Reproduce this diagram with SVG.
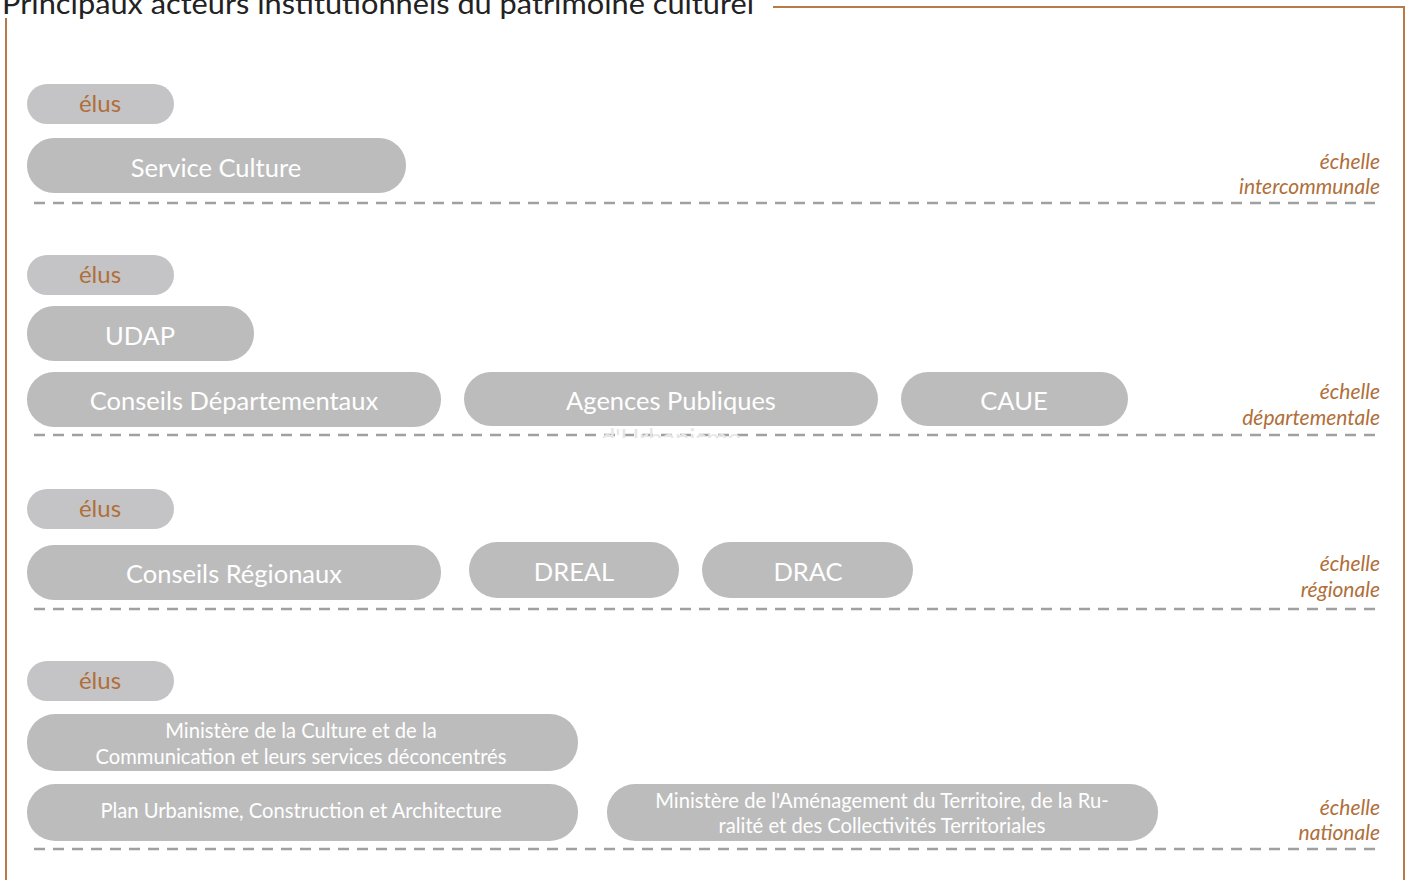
<svg xmlns="http://www.w3.org/2000/svg" width="1410" height="880" viewBox="0 0 1410 880">
<defs>
<style>
.frame{fill:none;stroke:#b87a47;stroke-width:2}
.elus{fill:#c4c4c6}
.box{fill:#bcbcbc}
.elt{font-family:Lato,"Open Sans",sans-serif;font-size:24px;fill:#b06f3a;text-anchor:middle}
.lbl{font-family:Lato,"Open Sans",sans-serif;font-size:25.5px;fill:#ffffff;text-anchor:middle}
.sm{font-family:Lato,"Open Sans",sans-serif;font-size:20.2px;fill:#ffffff;text-anchor:middle}
.sc{font-family:Lato,"Open Sans",sans-serif;font-style:italic;font-size:21px;fill:#b06f3a;text-anchor:end}
.dash{stroke:#a0a0a0;stroke-width:2.5;stroke-dasharray:11 8;fill:none}
.title{font-family:Lato,"Open Sans",sans-serif;font-size:28px;fill:#222222}
</style>
<clipPath id="clipU"><rect x="0" y="0" width="1410" height="438"/></clipPath>
</defs>
<rect x="0" y="0" width="1410" height="880" fill="#ffffff"/>
<text class="title" x="2" y="14" textLength="752" lengthAdjust="spacingAndGlyphs">Principaux acteurs institutionnels du patrimoine culturel</text>
<path class="frame" d="M6,18 V880 M773,7 H1404 V880"/>
<g id="separators">
<line class="dash" x1="34" y1="203" x2="1380" y2="203"/>
<line class="dash" x1="34" y1="435" x2="1380" y2="435"/>
<line class="dash" x1="34" y1="609" x2="1380" y2="609"/>
<line class="dash" x1="34" y1="849" x2="1380" y2="849"/>
</g>
<g id="scale-intercommunale"><text class="sc" x="1380" y="169">échelle</text><text class="sc" x="1380" y="194">intercommunale</text></g>
<g id="scale-departementale"><text class="sc" x="1380" y="399">échelle</text><text class="sc" x="1380" y="425">départementale</text></g>
<g id="scale-regionale"><text class="sc" x="1380" y="571">échelle</text><text class="sc" x="1380" y="597">régionale</text></g>
<g id="scale-nationale"><text class="sc" x="1380" y="815">échelle</text><text class="sc" x="1380" y="840">nationale</text></g>

<g id="elus1"><rect class="elus" x="27" y="84" width="147" height="40" rx="20"/><text class="elt" x="100" y="112">élus</text></g>
<g id="service-culture"><rect class="box" x="27" y="138" width="379" height="55" rx="27"/><text class="lbl" x="216" y="177">Service Culture</text></g>

<g id="elus2"><rect class="elus" x="27" y="255" width="147" height="40" rx="20"/><text class="elt" x="100" y="283">élus</text></g>
<g id="udap"><rect class="box" x="27" y="306" width="227" height="55" rx="27"/><text class="lbl" x="140" y="345">UDAP</text></g>
<g id="conseils-departementaux"><rect class="box" x="27" y="372" width="414" height="55" rx="27"/><text class="lbl" x="234" y="410">Conseils Départementaux</text></g>
<g id="agences-publiques"><rect class="box" x="464" y="372" width="414" height="54" rx="27"/><text class="lbl" x="671" y="410">Agences Publiques</text><text class="lbl" x="671" y="447" style="fill:#e6e6e6" clip-path="url(#clipU)">d'Urbanisme</text></g>
<g id="caue"><rect class="box" x="901" y="372" width="227" height="54" rx="27"/><text class="lbl" x="1014" y="410">CAUE</text></g>

<g id="elus3"><rect class="elus" x="27" y="489" width="147" height="40" rx="20"/><text class="elt" x="100" y="517">élus</text></g>
<g id="conseils-regionaux"><rect class="box" x="27" y="545" width="414" height="55" rx="27"/><text class="lbl" x="234" y="583">Conseils Régionaux</text></g>
<g id="dreal"><rect class="box" x="469" y="542" width="210" height="56" rx="28"/><text class="lbl" x="574" y="581">DREAL</text></g>
<g id="drac"><rect class="box" x="702" y="542" width="211" height="56" rx="28"/><text class="lbl" x="808" y="581">DRAC</text></g>

<g id="elus4"><rect class="elus" x="27" y="661" width="147" height="40" rx="20"/><text class="elt" x="100" y="689">élus</text></g>
<g id="ministere-culture"><rect class="box" x="27" y="714" width="551" height="57" rx="28"/><text class="sm" x="301" y="738">Ministère de la Culture et de la</text><text class="sm" x="301" y="764">Communication et leurs services déconcentrés</text></g>
<g id="puca"><rect class="box" x="27" y="784" width="551" height="57" rx="28"/><text class="sm" x="301" y="818">Plan Urbanisme, Construction et Architecture</text></g>
<g id="ministere-amenagement"><rect class="box" x="607" y="784" width="551" height="57" rx="28"/><text class="sm" x="882" y="808">Ministère de l'Aménagement du Territoire, de la Ru-</text><text class="sm" x="882" y="833">ralité et des Collectivités Territoriales</text></g>
</svg>
